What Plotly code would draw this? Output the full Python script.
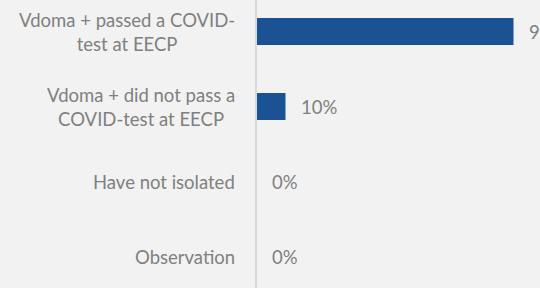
import plotly.graph_objects as go

categories = ["Vdoma + passed a COVID-test at EECP",
              "Vdoma + did not pass a COVID-test at EECP",
              "Have not isolated",
              "Observation"]
tick_labels = ["Vdoma + passed a COVID-<br>test at EECP",
               "Vdoma + did not pass a<br>COVID-test at EECP",
               "Have not isolated",
               "Observation"]
values = [90, 10, 0, 0]
value_labels = ["90%", "10%", "0%", "0%"]

FONT = "Lato"
TXT = "#808080"
BAR = "#1a5294"
BG = "#f2f2f2"

fig = go.Figure()
fig.add_trace(go.Bar(
    x=values, y=categories, orientation="h",
    marker=dict(color=BAR, line=dict(width=0)),
    width=0.36, hoverinfo="skip", showlegend=False,
))

annotations = []
for cat, v, lab in zip(categories, values, value_labels):
    annotations.append(dict(x=v, y=cat, xref="x", yref="y", text=lab,
                            showarrow=False, xanchor="left", yanchor="middle",
                            xshift=13, font=dict(family=FONT, size=18.5, color=TXT)))
for cat, lab in zip(categories, tick_labels):
    annotations.append(dict(x=0, y=cat, xref="paper", yref="y", text=lab,
                            showarrow=False, xanchor="right", yanchor="middle",
                            align="center", xshift=-20,
                            font=dict(family=FONT, size=18.5, color=TXT)))

fig.update_layout(
    width=540, height=288,
    margin=dict(l=257, r=0, t=0, b=0, pad=0),
    paper_bgcolor=BG, plot_bgcolor=BG,
    font=dict(family=FONT, color=TXT),
    annotations=annotations,
    xaxis=dict(range=[0, 99.3], showgrid=False, zeroline=False,
               showticklabels=False, ticks="", fixedrange=True),
    yaxis=dict(categoryorder="array", categoryarray=categories,
               range=[3.42, -0.42], autorange=False,
               showgrid=False, zeroline=False,
               showticklabels=False, ticks="",
               showline=True, linecolor="#d9d9d9", linewidth=2, fixedrange=True),
)
fig.write_html("out.html", config={"displayModeBar": False, "staticPlot": True},
               post_script="document.body.style.margin='0';document.body.style.overflow='hidden';")
